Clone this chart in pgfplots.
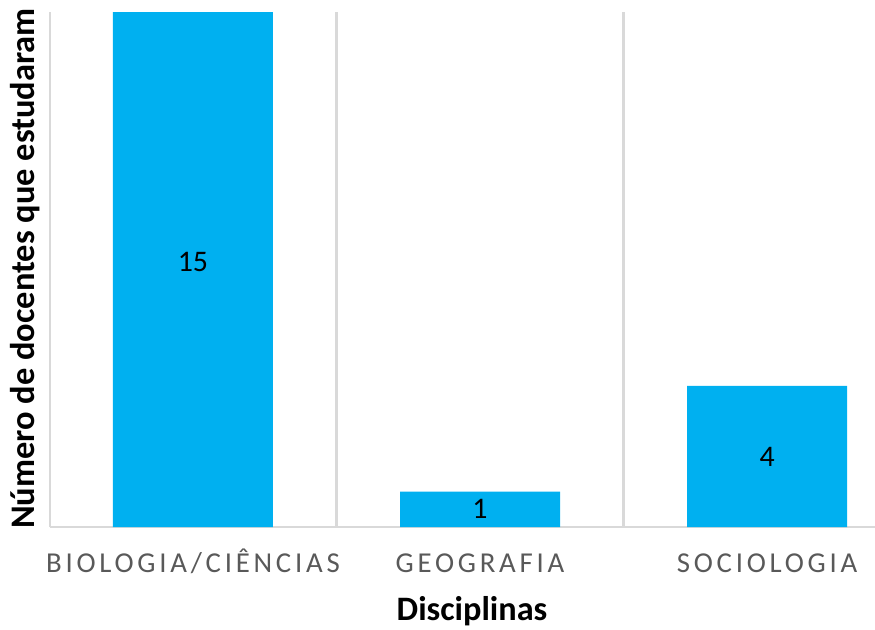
\documentclass[border=0pt]{standalone}
\usepackage{pgfplots}
\pgfplotsset{compat=1.18}
\usepackage{fontspec}
\setmainfont{Carlito}
\newfontfamily\spaced[LetterSpace=13]{Carlito}
\definecolor{barblue}{HTML}{00B0F0}
\definecolor{gridgray}{HTML}{D9D9D9}
\definecolor{ticktext}{HTML}{595959}
\begin{document}
\begin{tikzpicture}
\useasboundingbox (-1cm,-2.04cm) rectangle (16.5cm,10.54cm);
\begin{axis}[
  at={(0,0)}, anchor=south west,
  scale only axis, width=16.5cm, height=10.3cm,
  xmin=-0.498, xmax=2.376, ymin=0, ymax=14.6,
  axis x line=bottom, axis y line=left,
  axis line style={gridgray, line width=1.4pt, -},
  ytick=\empty,
  xtick={0,1,2},
  xticklabels={BIOLOGIA/CIÊNCIAS, GEOGRAFIA, SOCIOLOGIA},
  major tick length=0pt,
  xticklabel style={font=\spaced\fontsize{16.4}{19}\selectfont, text=ticktext, anchor=base, yshift=-0.9cm},
  extra x ticks={0.5,1.5},
  extra x tick labels={},
  extra x tick style={grid=major, major grid style={gridgray, line width=1.4pt}, major tick length=0pt},
  xlabel={Disciplinas},
  xlabel style={at={(axis description cs:0.5115,-0.1806)}, anchor=base, font=\bfseries\fontsize{19.5}{23}\selectfont},
  ylabel={Número de docentes que estudaram},
  ylabel style={at={(axis description cs:-0.0182,0.502)}, anchor=base, font=\bfseries\fontsize{19.6}{23}\selectfont},
]
\addplot[ybar, bar width=3.2cm, fill=barblue, draw=none] coordinates {(0,15) (1,1) (2,4)};
\addplot[draw=none, mark=none, nodes near coords, point meta=explicit symbolic,
  every node near coord/.append style={anchor=center, font=\fontsize{17}{20}\selectfont, text=black}]
  coordinates {(0,7.5)[15] (1,0.5)[1] (2,2)[4]};
\end{axis}
\end{tikzpicture}
\end{document}
